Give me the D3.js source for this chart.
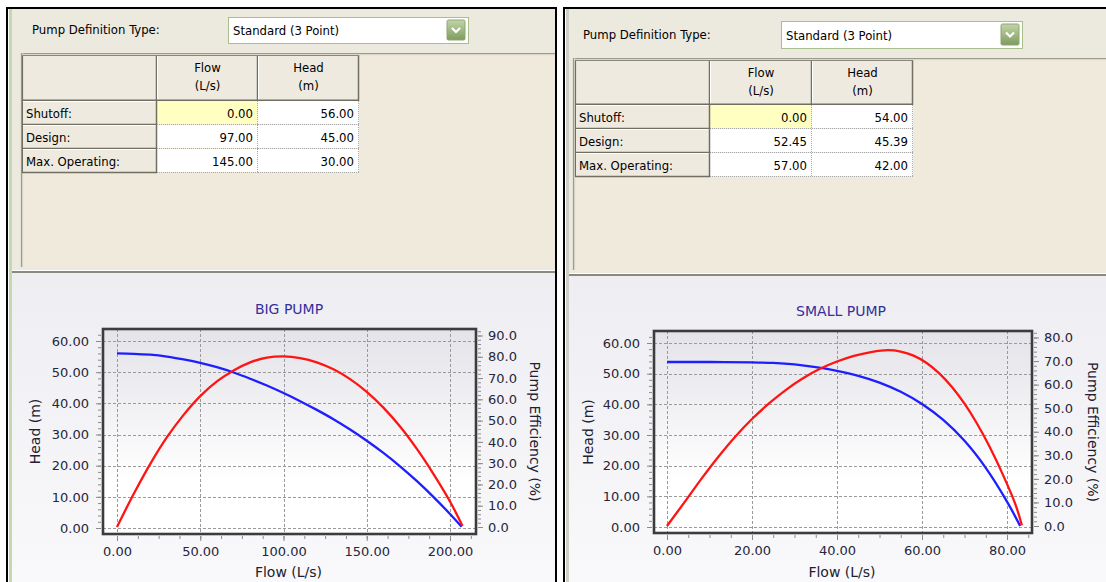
<!DOCTYPE html>
<html><head><meta charset="utf-8">
<script src="https://cdn.jsdelivr.net/npm/d3@7/dist/d3.min.js"></script>
<style>body{margin:0;background:#fff;}svg{display:block;}</style>
</head><body>
<svg id="c" width="1106" height="582"></svg>
<script>
// ---------- DATA ----------
const rowLabels = ["Shutoff:", "Design:", "Max. Operating:"];
const colHeaders = [["Flow", "(L/s)"], ["Head", "(m)"]];
const definitionType = "Standard (3 Point)";

const bigTableFlow = [0.00, 97.00, 145.00];
const bigTableHead = [56.00, 45.00, 30.00];
const smallTableFlow = [0.00, 52.45, 57.00];
const smallTableHead = [54.00, 45.39, 42.00];

const bigHeadFlow   = [0, 10, 20, 30, 40, 50, 60, 70, 80, 90, 100, 110, 120, 130, 140, 150, 160, 170, 180, 190, 200, 207];
const bigHeadValues = [56, 55.9, 55.6, 55.0, 54.1, 53.0, 51.6, 49.9, 47.9, 45.7, 43.3, 40.7, 37.9, 34.9, 31.6, 28.0, 24.1, 19.8, 15.1, 10.0, 4.5, 0.4];
const bigEffFlow    = [0, 10, 20, 30, 40, 50, 60, 70, 80, 90, 100, 110, 120, 130, 140, 150, 160, 170, 180, 190, 200, 207.5];
const bigEffValues  = [0, 15.5, 29.7, 42.2, 52.7, 61.5, 68.4, 73.6, 77.4, 79.6, 80.2, 79.4, 77.4, 74.1, 69.5, 63.5, 56.1, 47.2, 36.8, 25.0, 12.0, 0.5];

const smallHeadFlow   = [0, 10, 20, 25, 30, 35, 40, 45, 50, 55, 60, 65, 70, 75, 80, 83.1];
const smallHeadValues = [53.8, 53.8, 53.7, 53.5, 53.0, 52.1, 50.9, 49.3, 47.1, 44.1, 40.1, 34.9, 28.1, 19.3, 8.3, 0.3];
const smallEffFlow    = [0, 4, 8, 12, 16, 20, 24, 28, 32, 36, 40, 44, 48, 52, 55, 58, 61, 64, 67, 70, 73, 76, 79, 82, 83.5];
const smallEffValues  = [0, 9.8, 19.8, 29.2, 37.8, 45.4, 52.0, 57.8, 62.7, 66.7, 69.8, 72.2, 73.8, 74.6, 74.0, 72.3, 69.3, 64.9, 59.1, 51.9, 43.3, 33.3, 21.9, 9.1, 0.3];

const headTicks = [0, 10, 20, 30, 40, 50, 60];
const bigFlowTicks = [0, 50, 100, 150, 200];
const bigEffTicks = [0, 10, 20, 30, 40, 50, 60, 70, 80, 90];
const smallFlowTicks = [0, 20, 40, 60, 80];
const smallEffTicks = [0, 10, 20, 30, 40, 50, 60, 70, 80];

const chartTitles = ["BIG PUMP", "SMALL PUMP"];
const xTitle = "Flow (L/s)";
const yTitle = "Head (m)";
const y2Title = "Pump Efficiency (%)";

// ---------- SETUP ----------
const FONT_UI = "'DejaVu Sans Condensed','Liberation Sans Narrow','DejaVu Sans',sans-serif";
const FONT_CH = "'DejaVu Sans',Verdana,sans-serif";
const svg = d3.select("#c");
const defs = svg.append("defs");
function grad(id, stops) {
  const g = defs.append("linearGradient").attr("id", id)
    .attr("x1", 0).attr("y1", 0).attr("x2", 0).attr("y2", 1);
  stops.forEach(s => g.append("stop").attr("offset", s[0]).attr("stop-color", s[1]));
}
grad("bgGrad", [["0%", "#EEEDF2"], ["100%", "#F9F9FB"]]);
grad("plotGrad", [["0%", "#E3E3E9"], ["75%", "#FFFFFF"], ["100%", "#FFFFFF"]]);
grad("btnGrad", [["0%", "#C3D4A8"], ["100%", "#7E9C5F"]]);

function line(x1, y1, x2, y2, color, w, dash) {
  const l = svg.append("line").attr("x1", x1).attr("y1", y1).attr("x2", x2).attr("y2", y2)
    .attr("stroke", color).attr("stroke-width", w || 1);
  if (dash) l.attr("stroke-dasharray", dash);
  return l;
}
function rect(x, y, w, h, fill) {
  return svg.append("rect").attr("x", x).attr("y", y).attr("width", w).attr("height", h).attr("fill", fill);
}
function text(x, y, s, opts) {
  opts = opts || {};
  return svg.append("text").attr("x", x).attr("y", y).text(s)
    .attr("font-family", opts.font || FONT_UI).attr("font-size", opts.size || 13)
    .attr("fill", opts.color || "#000").attr("text-anchor", opts.anchor || "start");
}

// ---------- PANELS ----------
const panels = [
  { bx: 6, ex: 557, top: 7, split: 270, gx: 21, gy: 53, stripe: "#C6D8AD",
    lblX: 32, lblY: 34, dd: [228, 17, 240, 26],
    cols: [22, 157, 258, 359], hdrTop: 55, hdrBot: 101, rowH: 24,
    flows: bigTableFlow, heads: bigTableHead },
  { bx: 563, ex: 1110, top: 7, split: 273, gx: 573, gy: 58, stripe: "#CFCFC7",
    lblX: 583, lblY: 39, dd: [781, 21, 241, 27],
    cols: [575, 710, 812, 913], hdrTop: 60, hdrBot: 105, rowH: 24,
    flows: smallTableFlow, heads: smallTableHead }
];

panels.forEach(p => {
  const innerR = Math.min(p.ex - 2, 1106);
  rect(p.bx, p.top, p.ex - p.bx, 582 - p.top, "#000");
  rect(p.bx + 2, p.top + 2, innerR - p.bx - 2, p.split - p.top - 2, "#ECE9DF");
  rect(p.gx, p.gy, innerR - p.gx, p.split - p.gy - 2, "#F0EADD");
  line(p.gx, p.gy + 0.5, innerR, p.gy + 0.5, "#9D9A8E", 1.2);
  line(p.gx, p.gy + 1.7, innerR, p.gy + 1.7, "#D6D2C6", 1);
  line(p.gx + 0.5, p.gy, p.gx + 0.5, p.split - 3, "#9D9A8E", 1.2);
  line(p.gx + 1.7, p.gy, p.gx + 1.7, p.split - 3, "#D6D2C6", 1);
  line(p.bx + 2, p.split + 0.5, innerR, p.split + 0.5, "#FFFFFF", 1);
  line(p.bx + 2, p.split + 2, innerR, p.split + 2, "#B9B6AB", 1.5);
  rect(p.bx + 2, p.split + 3, innerR - p.bx - 2, 582 - p.split - 3, "url(#bgGrad)");
  rect(p.bx + 2, p.top + 2, 1, 582, "#FFFFFF");
  rect(p.bx + 3, p.top + 2, 3, 582, p.stripe);

  text(p.lblX, p.lblY, "Pump Definition Type:");
  const [dx, dy, dw, dh] = p.dd;
  svg.append("rect").attr("x", dx + 0.5).attr("y", dy + 0.5).attr("width", dw).attr("height", dh)
    .attr("fill", "#fff").attr("stroke", "#A9BE8A").attr("stroke-width", 1);
  text(dx + 5, dy + dh / 2 + 5, definitionType);
  svg.append("rect").attr("x", dx + dw - 21).attr("y", dy + 3).attr("width", 18).attr("height", dh - 6)
    .attr("fill", "url(#btnGrad)").attr("stroke", "#8CA673").attr("rx", 1.5);
  const cx = dx + dw - 12, cy = dy + dh / 2;
  svg.append("path").attr("d", `M${cx - 4},${cy - 2} L${cx},${cy + 2} L${cx + 4},${cy - 2}`)
    .attr("fill", "none").attr("stroke", "#fff").attr("stroke-width", 2.2);

  const c = p.cols;
  for (let i = 0; i < 3; i++) {
    rect(c[i], p.hdrTop, c[i + 1] - c[i], p.hdrBot - p.hdrTop, "#EFEADF");
    line(c[i] + 0.5, p.hdrTop, c[i] + 0.5, p.hdrBot, "#FFFFFF", 1);
    line(c[i], p.hdrTop + 0.5, c[i + 1], p.hdrTop + 0.5, "#FFFFFF", 1);
    line(c[i + 1] - 0.5, p.hdrTop, c[i + 1] - 0.5, p.hdrBot, "#716F64", 1.5);
    if (i > 0) {
      const cc = (c[i] + c[i + 1]) / 2;
      text(cc, p.hdrTop + 17, colHeaders[i - 1][0], { anchor: "middle" });
      text(cc, p.hdrTop + 35, colHeaders[i - 1][1], { anchor: "middle" });
    }
  }
  line(c[0], p.hdrBot - 0.5, c[3], p.hdrBot - 0.5, "#716F64", 2);
  line(c[0] + 0.5, p.hdrTop, c[0] + 0.5, p.hdrBot + 3 * p.rowH, "#716F64", 1.2);
  line(c[0], p.hdrTop + 0.5, c[3], p.hdrTop + 0.5, "#8A877C", 1);
  rowLabels.forEach((lab, r) => {
    const y0 = p.hdrBot + r * p.rowH, y1 = y0 + p.rowH;
    rect(c[0] + 1, y0, c[1] - c[0] - 1, p.rowH, "#EFEADF");
    line(c[0] + 1, y0 + 0.5, c[1], y0 + 0.5, "#FFFFFF", 1);
    line(c[0], y1 - 0.5, c[1], y1 - 0.5, "#716F64", 1.5);
    text(c[0] + 4, y0 + 17, lab);
    const vals = [p.flows[r], p.heads[r]];
    for (let k = 0; k < 2; k++) {
      const xl = c[k + 1], xr = c[k + 2];
      rect(xl, y0, xr - xl, p.rowH - 1, (r === 0 && k === 0) ? "#FFFFC2" : "#FFFFFF");
      line(xl, y1 - 0.5, xr, y1 - 0.5, "#A8A8A8", 1, "1,1");
      line(xr - 0.5, y0, xr - 0.5, y1, "#A8A8A8", 1, "1,1");
      text(xr - 5, y0 + 17, vals[k].toFixed(2), { anchor: "end" });
    }
  });
  line(c[1] - 0.5, p.hdrBot, c[1] - 0.5, p.hdrBot + 3 * p.rowH, "#716F64", 1.5);
});
rect(558, 0, 5, 582, "#FFFFFF");

// ---------- CHARTS ----------
const charts = [
  { title: chartTitles[0], tx: 289, ty: 314,
    frame: [103, 329, 476, 534],
    xDomain: [0, 200], xRange: [117, 450], xTicks: bigFlowTicks, xMinor: 12.5,
    hRange: [528, 341], eDomain: [0, 90], eRange: [527, 335.5], eTicks: bigEffTicks,
    headF: bigHeadFlow, headV: bigHeadValues, effF: bigEffFlow, effV: bigEffValues,
    ylX: 35, y2X: 535 },
  { title: chartTitles[1], tx: 841, ty: 316,
    frame: [654, 331, 1032, 533],
    xDomain: [0, 80], xRange: [667, 1007], xTicks: smallFlowTicks, xMinor: 5,
    hRange: [527, 343], eDomain: [0, 80], eRange: [526, 337.5], eTicks: smallEffTicks,
    headF: smallHeadFlow, headV: smallHeadValues, effF: smallEffFlow, effV: smallEffValues,
    ylX: 588, y2X: 1093 }
];

charts.forEach(ch => {
  const [fl, ft, fr, fb] = ch.frame;
  const x = d3.scaleLinear().domain(ch.xDomain).range(ch.xRange);
  const yH = d3.scaleLinear().domain([0, 60]).range(ch.hRange);
  const yE = d3.scaleLinear().domain(ch.eDomain).range(ch.eRange);
  const g = svg.append("g");

  g.append("rect").attr("x", fl).attr("y", ft).attr("width", fr - fl).attr("height", fb - ft)
    .attr("fill", "url(#plotGrad)");

  g.selectAll(".hg").data(headTicks).join("line")
    .attr("x1", fl).attr("x2", fr).attr("y1", d => Math.round(yH(d)) + 0.5).attr("y2", d => Math.round(yH(d)) + 0.5)
    .attr("stroke", "#9A9A9A").attr("stroke-dasharray", "3,2");
  g.selectAll(".vg").data(ch.xTicks).join("line")
    .attr("y1", ft).attr("y2", fb).attr("x1", d => Math.round(x(d)) + 0.5).attr("x2", d => Math.round(x(d)) + 0.5)
    .attr("stroke", "#9A9A9A").attr("stroke-dasharray", "3,2");

  const hMin = d3.range(0, 64, 2).filter(v => yH(v) >= ft + 1 && yH(v) <= fb - 1);
  const xMin = [];
  for (let v = 0; x(v) < fr; v += ch.xMinor) xMin.push(v);
  const eMin = d3.range(0, ch.eDomain[1] + 4, 2).filter(v => yE(v) >= ft + 1 && yE(v) <= fb - 1);

  g.append("g").attr("transform", `translate(${fl - 2},0)`)
    .call(d3.axisLeft(yH).tickValues(hMin).tickSize(3).tickFormat(""));
  g.append("g").attr("transform", `translate(0,${fb + 2})`)
    .call(d3.axisBottom(x).tickValues(xMin).tickSize(3).tickFormat(""));
  g.append("g").attr("transform", `translate(${fr + 2},0)`)
    .call(d3.axisRight(yE).tickValues(eMin).tickSize(3).tickFormat(""));

  g.append("g").attr("transform", `translate(${fl - 2},0)`)
    .call(d3.axisLeft(yH).tickValues(headTicks).tickSize(5).tickPadding(7).tickFormat(d3.format(".2f")));
  g.append("g").attr("transform", `translate(0,${fb + 2})`)
    .call(d3.axisBottom(x).tickValues(ch.xTicks).tickSize(5).tickPadding(6).tickFormat(d3.format(".2f")));
  g.append("g").attr("transform", `translate(${fr + 2},0)`)
    .call(d3.axisRight(yE).tickValues(ch.eTicks).tickSize(5).tickPadding(5).tickFormat(d3.format(".1f")));

  g.selectAll(".domain").remove();
  g.selectAll(".tick line").attr("stroke", "#8A8A8A");
  g.selectAll(".tick text").attr("font-family", FONT_CH).attr("font-size", 13).attr("fill", "#26263A");

  g.append("rect").attr("x", fl).attr("y", ft).attr("width", fr - fl).attr("height", fb - ft)
    .attr("fill", "none").attr("stroke", "#3C3C3C").attr("stroke-width", 2.6);

  const lineHead = d3.line().x(d => x(d[0])).y(d => yH(d[1])).curve(d3.curveCatmullRom.alpha(0.5));
  const lineEff = d3.line().x(d => x(d[0])).y(d => yE(d[1])).curve(d3.curveCatmullRom.alpha(0.5));
  g.append("path").datum(ch.headF.map((f, i) => [f, ch.headV[i]])).attr("d", lineHead)
    .attr("fill", "none").attr("stroke", "#1E1EFF").attr("stroke-width", 2.3);
  g.append("path").datum(ch.effF.map((f, i) => [f, ch.effV[i]])).attr("d", lineEff)
    .attr("fill", "none").attr("stroke", "#FF1414").attr("stroke-width", 2.3);

  g.append("text").attr("x", ch.tx).attr("y", ch.ty).attr("text-anchor", "middle")
    .attr("font-family", FONT_CH).attr("font-size", 14).attr("fill", "#34309A").text(ch.title);
  const xc = (ch.xRange[0] + ch.xRange[1]) / 2;
  g.append("text").attr("x", xc + 5).attr("y", 577).attr("text-anchor", "middle")
    .attr("font-family", FONT_CH).attr("font-size", 14).attr("fill", "#202030").text(xTitle);
  g.append("text").attr("transform", `translate(${ch.ylX},${(ft + fb) / 2}) rotate(-90)`)
    .attr("text-anchor", "middle").attr("dy", "0.35em")
    .attr("font-family", FONT_CH).attr("font-size", 14).attr("fill", "#202030").text(yTitle);
  g.append("text").attr("transform", `translate(${ch.y2X},${(ft + fb) / 2}) rotate(90)`)
    .attr("text-anchor", "middle").attr("dy", "0.35em")
    .attr("font-family", FONT_CH).attr("font-size", 14).attr("fill", "#202030").text(y2Title);
});
</script>
</body></html>
